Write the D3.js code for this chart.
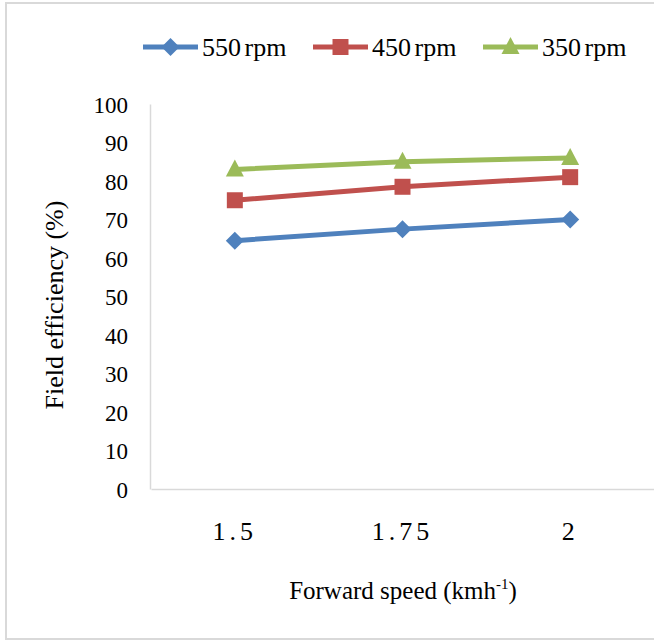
<!DOCTYPE html>
<html>
<head>
<meta charset="utf-8">
<script src="https://cdn.jsdelivr.net/npm/d3@7"></script>
<style>
  html, body { margin: 0; padding: 0; background: #fff; }
  svg { display: block; }
</style>
</head>
<body>
<svg id="chart" width="654" height="642"></svg>
<script>
const categories = ["1.5", "1.75", "2"];
const seriesNames = ["550 rpm", "450 rpm", "350 rpm"];
const rpm550 = [64.5, 67.5, 70];
const rpm450 = [75, 78.5, 81];
const rpm350 = [83, 85, 86];
const yTicks = [0, 10, 20, 30, 40, 50, 60, 70, 80, 90, 100];
const colors = ["#4f81bd", "#c0504d", "#9bbb59"];
const markers = ["diamond", "square", "triangle"];

const FONT = "Liberation Serif";

const series = [
  { name: seriesNames[0], values: rpm550, color: colors[0], marker: markers[0] },
  { name: seriesNames[1], values: rpm450, color: colors[1], marker: markers[1] },
  { name: seriesNames[2], values: rpm350, color: colors[2], marker: markers[2] }
];

const svg = d3.select("#chart");

// outer border
svg.append("rect")
  .attr("x", 6).attr("y", 3).attr("width", 660).attr("height", 636)
  .attr("fill", "none").attr("stroke", "#d9d9d9").attr("stroke-width", 2);

const plot = { left: 150, right: 654, top: 104, bottom: 489 };

const x = d3.scaleBand().domain(categories).range([plot.left + 1, plot.right]);
const y = d3.scaleLinear().domain([0, 100]).range([plot.bottom, plot.top]);

// y axis
const yAxis = d3.axisLeft(y).tickValues(yTicks).tickSize(0).tickPadding(22).tickFormat(d3.format("d"));
const gy = svg.append("g").attr("transform", `translate(${plot.left},0)`).call(yAxis);
gy.attr("font-family", null).attr("font-size", null);
gy.select(".domain").attr("stroke", "#d9d9d9").attr("stroke-width", 1.5);
gy.selectAll("text")
  .attr("font-family", FONT).attr("font-size", 23)
  .attr("dy", "0.35em").attr("fill", "#000");

// x axis
const xAxis = d3.axisBottom(x).tickSize(0).tickPadding(33);
const gx = svg.append("g").attr("transform", `translate(0,${plot.bottom})`).call(xAxis);
gx.attr("font-family", null).attr("font-size", null);
gx.select(".domain").attr("stroke", "#d9d9d9").attr("stroke-width", 1.5);
gx.selectAll("text")
  .attr("font-family", FONT).attr("font-size", 26)
  .attr("letter-spacing", "4px").attr("dy", "0.71em").attr("fill", "#000");

const cx = d => x(d) + x.bandwidth() / 2;

function markerPath(type) {
  if (type === "diamond") return "M0,-9L9,0L0,9L-9,0Z";
  if (type === "square") return "M-8,-8L8,-8L8,8L-8,8Z";
  return "M0,-10L9,7L-9,7Z";
}

const line = d3.line().x((d, i) => cx(categories[i])).y(d => y(d));

series.forEach(s => {
  svg.append("path")
    .datum(s.values)
    .attr("d", line)
    .attr("fill", "none")
    .attr("stroke", s.color)
    .attr("stroke-width", 5)
    .attr("stroke-linejoin", "round");
  svg.selectAll(null)
    .data(s.values)
    .enter().append("path")
    .attr("d", markerPath(s.marker))
    .attr("transform", (d, i) => `translate(${cx(categories[i])},${y(d)})`)
    .attr("fill", s.color);
});

// legend
const legendX = [143, 313, 483];
const legend = svg.append("g");
series.forEach((s, i) => {
  const g = legend.append("g").attr("transform", `translate(${legendX[i]},47)`);
  g.append("line").attr("x1", 0).attr("x2", 55).attr("y1", 0).attr("y2", 0)
    .attr("stroke", s.color).attr("stroke-width", 5);
  g.append("path").attr("d", markerPath(s.marker))
    .attr("transform", "translate(27.5,0)").attr("fill", s.color);
  g.append("text").attr("x", 59).attr("y", 0).attr("dy", "0.35em")
    .attr("font-family", FONT)
    .attr("font-size", 26).attr("word-spacing", "-3px").text(s.name);
});

// axis titles
svg.append("text")
  .attr("transform", `translate(63,305) rotate(-90)`)
  .attr("text-anchor", "middle")
  .attr("font-family", FONT)
  .attr("font-size", 26)
  .text("Field efficiency (%)");

const xt = svg.append("text")
  .attr("x", 403).attr("y", 599)
  .attr("text-anchor", "middle")
  .attr("font-family", FONT)
  .attr("font-size", 25);
xt.append("tspan").attr("font-family", FONT).text("Forward speed (kmh");
xt.append("tspan").attr("font-family", FONT).attr("dy", -10).attr("font-size", 15).text("-1");
xt.append("tspan").attr("font-family", FONT).attr("dy", 10).text(")");
</script>
</body>
</html>
